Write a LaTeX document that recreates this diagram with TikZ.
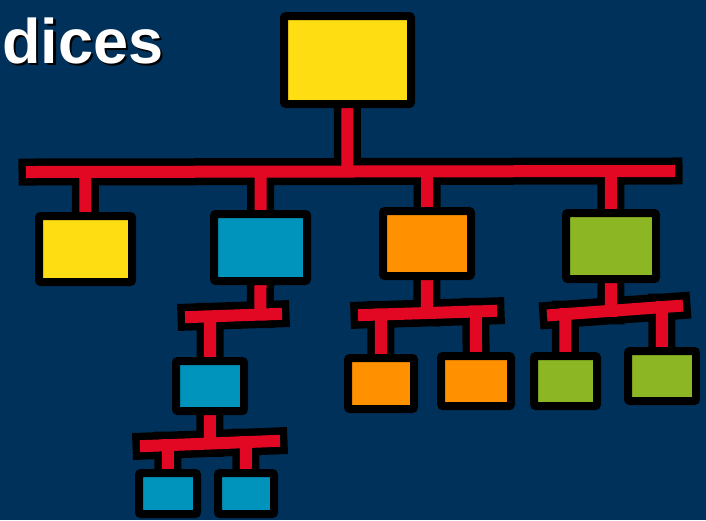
\documentclass[tikz,border=0pt]{standalone}
\usepackage{fontspec}
\setmainfont{Liberation Sans}
\usetikzlibrary{positioning,calc}
\definecolor{navy}{RGB}{0,49,90}
\definecolor{boxyellow}{RGB}{254,221,18}
\definecolor{boxblue}{RGB}{0,148,188}
\definecolor{boxorange}{RGB}{255,145,0}
\definecolor{boxgreen}{RGB}{140,182,35}
\definecolor{wirered}{RGB}{226,8,36}
\pgfdeclarelayer{back}
\pgfdeclarelayer{wires}
\pgfsetlayers{back,wires,main}
\tikzstyle{box} = [rectangle, rounded corners=2pt, draw=black, line width=8pt, inner sep=0pt]
\tikzstyle{yellowbox} = [box, fill=boxyellow]
\tikzstyle{bluebox} = [box, fill=boxblue]
\tikzstyle{orangebox} = [box, fill=boxorange]
\tikzstyle{greenbox} = [box, fill=boxgreen]
\tikzstyle{wire} = [draw=black, line width=7.5pt, double=wirered, double distance=12pt, line cap=rect]
\tikzstyle{heading} = [anchor=base west, inner sep=0pt, font=\fontsize{63}{63}\selectfont\bfseries]

\begin{document}
\begin{tikzpicture}[x=1pt, y=-1pt]
\useasboundingbox (0,0) rectangle (706,520);
\begin{pgfonlayer}{back}
\fill[navy] (0,0) rectangle (706,520);
\end{pgfonlayer}
% title
\node (shadow) [heading, text=black] at (4.5,65.5) {dices};
\node (title) [heading, text=white] at (2,63) {dices};
% boxes
\node (root) [yellowbox, minimum width=127pt, minimum height=88pt] at (347.5,60) {};
\node (y1) [yellowbox, minimum width=93pt, minimum height=66pt] at (85.5,249) {};
\node (b1) [bluebox, minimum width=93pt, minimum height=67pt] at (260.5,247.5) {};
\node (o1) [orangebox, minimum width=88pt, minimum height=65pt] at (427,243.5) {};
\node (g1) [greenbox, minimum width=90pt, minimum height=66pt] at (611,246) {};
\node (b2) [bluebox, minimum width=68pt, minimum height=50pt] at (210,386) {};
\node (o2a) [orangebox, minimum width=66pt, minimum height=51pt] at (381,383.5) {};
\node (o2b) [orangebox, minimum width=70pt, minimum height=50pt] at (476,381) {};
\node (g2a) [greenbox, minimum width=63pt, minimum height=50pt] at (565.5,381) {};
\node (g2b) [greenbox, minimum width=68pt, minimum height=50pt] at (662,376) {};
\node (b3a) [bluebox, minimum width=58pt, minimum height=41pt] at (168,493.5) {};
\node (b3b) [bluebox, minimum width=56pt, minimum height=41pt] at (246,493.5) {};
% bar ends
\coordinate (mainL) at (32,172);
\coordinate (mainR) at (669,171);
\coordinate (blueL) at (191,317);
\coordinate (blueR) at (276,314);
\coordinate (subL) at (146,446);
\coordinate (subR) at (274,441);
\coordinate (orangeL) at (364,315);
\coordinate (orangeR) at (491,311);
\coordinate (greenL) at (553,315);
\coordinate (greenR) at (677,306);
% connectors
\begin{pgfonlayer}{wires}
\draw [wire] (mainL) -- (mainR)
  (root.center) -- (intersection of mainL--mainR and root.center--root.south)
  (y1.center) -- (intersection of mainL--mainR and y1.center--y1.north)
  (b1.center) -- (intersection of mainL--mainR and b1.center--b1.north)
  (o1.center) -- (intersection of mainL--mainR and o1.center--o1.north)
  (g1.center) -- (intersection of mainL--mainR and g1.center--g1.north)
  (blueL) -- (blueR)
  (b1.center) -- (intersection of blueL--blueR and b1.center--b1.south)
  (b2.center) -- (intersection of blueL--blueR and b2.center--b2.north)
  (subL) -- (subR)
  (b2.center) -- (intersection of subL--subR and b2.center--b2.south)
  (b3a.center) -- (intersection of subL--subR and b3a.center--b3a.north)
  (b3b.center) -- (intersection of subL--subR and b3b.center--b3b.north)
  (orangeL) -- (orangeR)
  (o1.center) -- (intersection of orangeL--orangeR and o1.center--o1.south)
  (o2a.center) -- (intersection of orangeL--orangeR and o2a.center--o2a.north)
  (o2b.center) -- (intersection of orangeL--orangeR and o2b.center--o2b.north)
  (greenL) -- (greenR)
  (g1.center) -- (intersection of greenL--greenR and g1.center--g1.south)
  (g2a.center) -- (intersection of greenL--greenR and g2a.center--g2a.north)
  (g2b.center) -- (intersection of greenL--greenR and g2b.center--g2b.north);
\end{pgfonlayer}
\end{tikzpicture}
\end{document}
